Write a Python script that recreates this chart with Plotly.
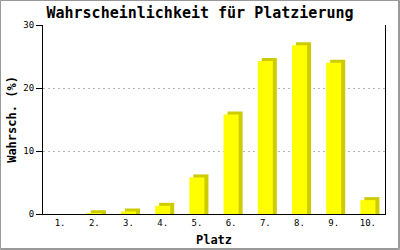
import plotly.graph_objects as go

# Data
categories = ["1.", "2.", "3.", "4.", "5.", "6.", "7.", "8.", "9.", "10."]
positions = [1, 2, 3, 4, 5, 6, 7, 8, 9, 10]
values = [0, 0.12, 0.4, 1.3, 5.8, 15.8, 24.3, 26.8, 24.0, 2.2]
y_ticks = [0, 10, 20, 30]

W, H = 400, 250
ML, MR, MT, MB = 43, 15, 25, 36
PW, PH = W - ML - MR, H - MT - MB
YMAX = 30

bar_w = 0.44
dx = 4 / (PW / 10)          # shadow offset to the right (in category units)
dy = 3 * YMAX / PH          # shadow offset upward (in value units)
shadow_vals = [v + dy if v > 0 else 0 for v in values]

fig = go.Figure()
fig.add_trace(go.Bar(
    x=positions, y=shadow_vals, width=bar_w, offset=-bar_w / 2 + dx,
    marker=dict(color="#CCCC00", line=dict(width=0)),
    showlegend=False, hoverinfo="skip",
))
fig.add_trace(go.Bar(
    x=positions, y=values, width=bar_w, offset=-bar_w / 2,
    marker=dict(color="#FFFF00", line=dict(width=0)),
    showlegend=False,
))

mono = "DejaVu Sans Mono"
fig.update_layout(
    width=W, height=H,
    margin=dict(l=ML, r=MR, t=MT, b=MB, pad=0),
    paper_bgcolor="white", plot_bgcolor="white",
    barmode="overlay",
    title=dict(text="<b>Wahrscheinlichkeit für Platzierung</b>",
               font=dict(family=mono, size=15, color="black"),
               x=0.5, xanchor="center", y=1 - 13 / H, yanchor="middle"),
    xaxis=dict(
        range=[0.5, 10.5], tickmode="array", tickvals=positions, ticktext=categories,
        showgrid=False, zeroline=False, showline=True, linecolor="black", linewidth=1,
        ticks="", tickfont=dict(family=mono, size=9, color="black"),
        automargin=False,
        title=dict(text="<b>Platz</b>", font=dict(family=mono, size=12, color="black"),
                   standoff=8),
    ),
    yaxis=dict(
        range=[0, YMAX], tickmode="array", tickvals=y_ticks,
        showgrid=True, gridcolor="#b4b4b4", griddash="2px,3px", gridwidth=1,
        zeroline=False, showline=True, linecolor="black", linewidth=1, mirror=True,
        ticks="outside", ticklen=6, tickcolor="black", tickwidth=1,
        tickfont=dict(family=mono, size=9, color="black"),
        automargin=False,
        title=dict(text="<b>Wahrsch. (%)</b>", font=dict(family=mono, size=12, color="black"),
                   standoff=4),
    ),
    shapes=[dict(
        type="rect", xref="paper", yref="paper",
        x0=(0.5 - ML) / PW, x1=(398.5 - ML) / PW,
        y0=(PH + MT - 248.5) / PH, y1=(PH + MT - 0.5) / PH,
        line=dict(color="#999999", width=1), fillcolor="rgba(0,0,0,0)", layer="above",
    ), dict(
        type="rect", xref="paper", yref="paper",
        x0=(0.5 - ML) / PW, x1=(399.5 - ML) / PW,
        y0=(PH + MT - 249.5) / PH, y1=(PH + MT - 0.5) / PH,
        line=dict(color="#999999", width=1), fillcolor="rgba(0,0,0,0)", layer="above",
    )],
)

fig.write_html("out.html")
